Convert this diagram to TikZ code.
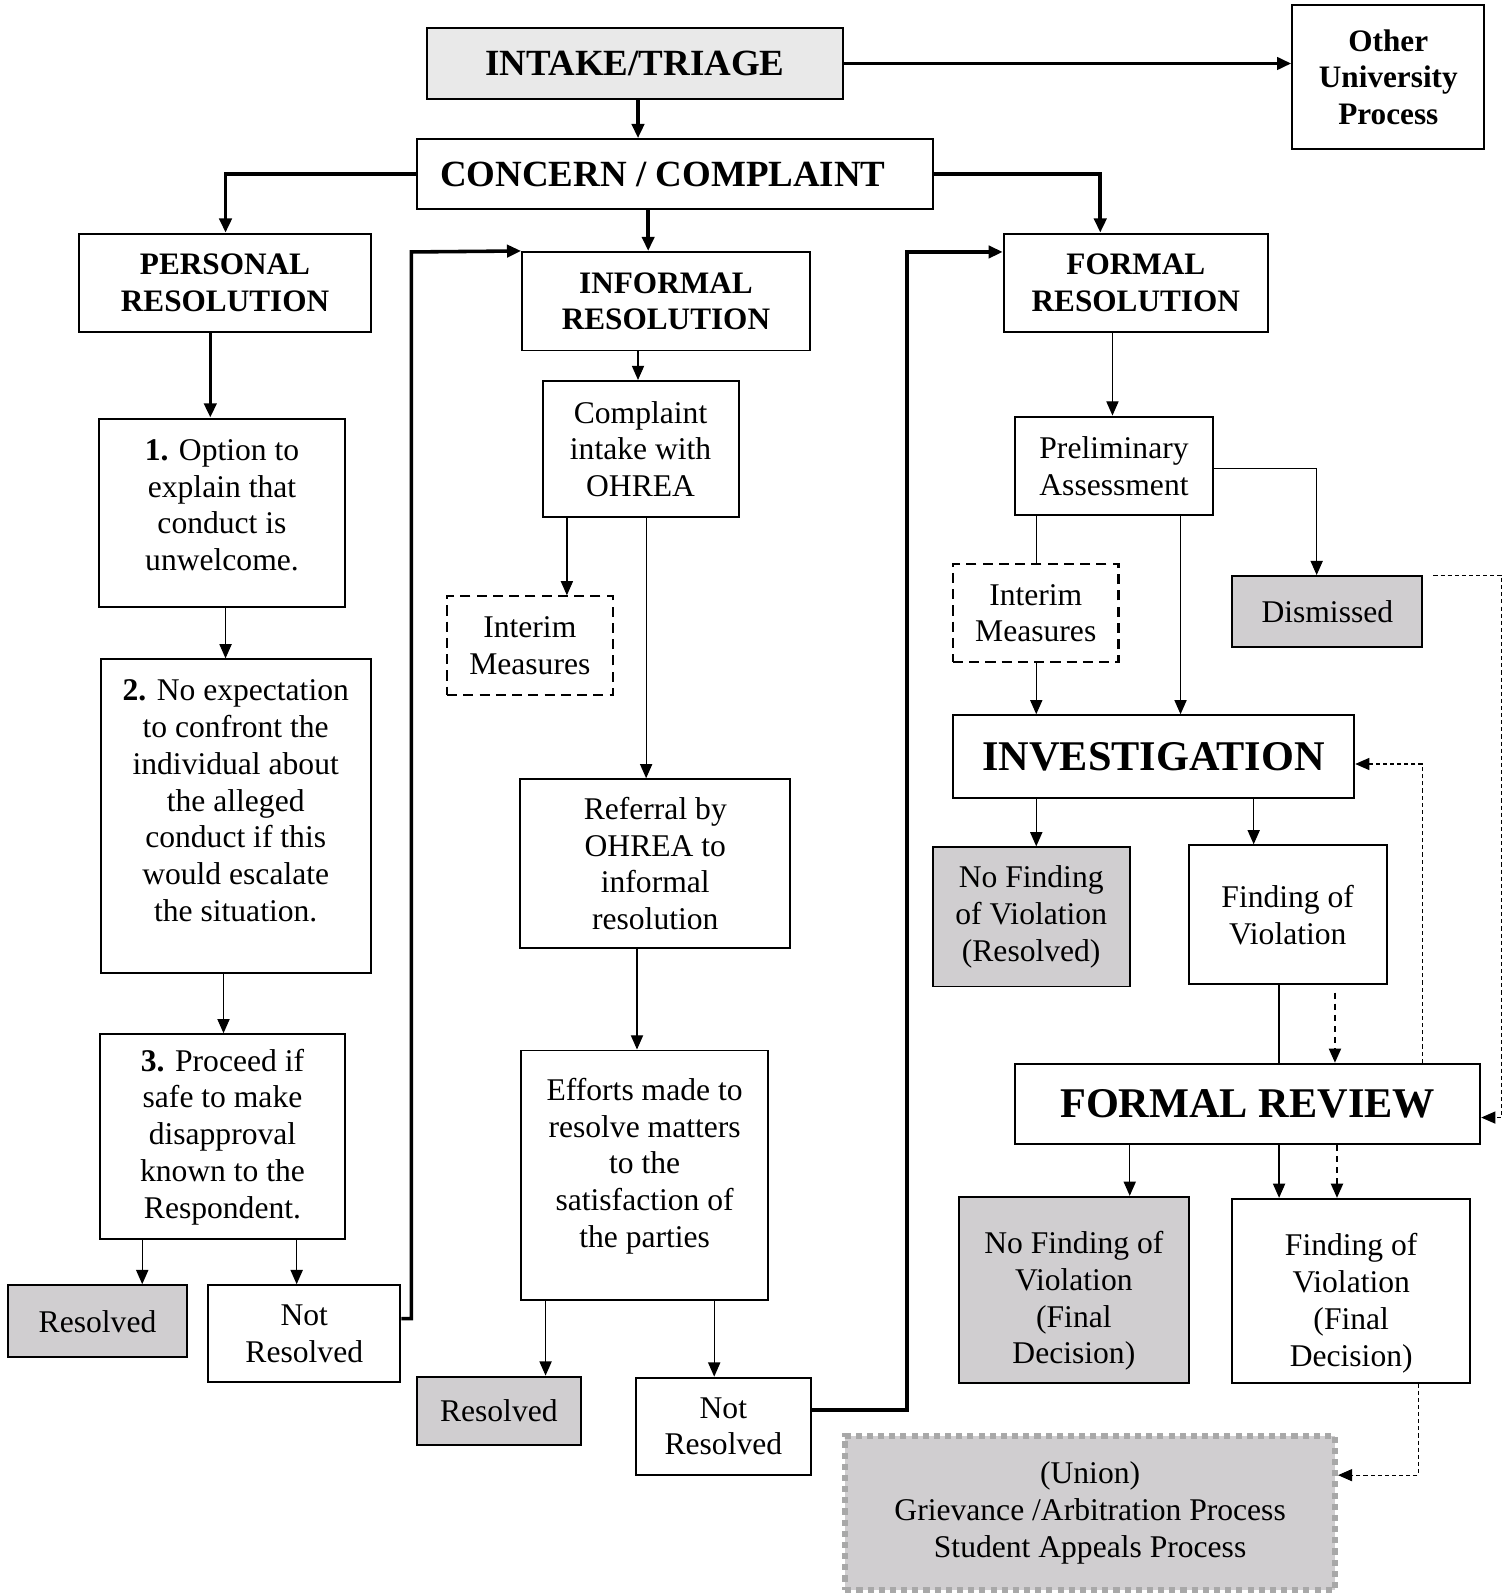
\documentclass[tikz,border=0pt]{standalone}
\usepackage{fontspec}
\setmainfont{Liberation Serif}
\usetikzlibrary{arrows.meta, positioning}
\definecolor{shade}{RGB}{208,206,208}
\definecolor{intakefill}{RGB}{233,233,233}
\definecolor{dotgray}{RGB}{168,168,168}
\tikzset{sz/.style 2 args={minimum width=#1*0.02cm, minimum height=#2*0.02cm}}

\begin{document}
\begin{tikzpicture}[x=0.02cm, y=-0.02cm,
  >={Triangle[length=0.28cm, width=0.24cm]},
  box/.style={draw=black, line width=1.1pt, fill=white, align=center, inner sep=0pt,
    font=\fontsize{17.7pt}{20.6pt}\selectfont},
  head/.style={box, font=\fontsize{17.5pt}{20.4pt}\selectfont\bfseries},
  mainhead/.style={box, font=\fontsize{20.7pt}{24pt}\selectfont\bfseries},
  big/.style={box, font=\fontsize{23.7pt}{26pt}\selectfont\bfseries},
  shaded/.style={box, fill=shade},
  interim/.style={box, dash pattern=on 0.2cm off 0.12cm, line width=1.2pt},
  union/.style={box, fill=shade, draw=dotgray, line width=0.12cm, dash pattern=on 0.12cm off 0.1cm},
  arr/.style={->, line width=0.7pt},
  thk/.style={->, line width=2pt},
  link/.style={line width=0.7pt},
  dsh/.style={->, line width=0.9pt, dash pattern=on 0.12cm off 0.1cm},
  fine/.style={->, line width=0.6pt, dash pattern=on 0.08cm off 0.06cm}
]
  \useasboundingbox (0,0) rectangle (1488,1568);

  % Top row
  \node[mainhead, fill=intakefill, sz={410}{69}] (intake) at (625,62.5) {INTAKE/TRIAGE};
  \node[head, sz={189}{142}] (other) at (1366.5,76) {Other\\University\\Process};
  \node[mainhead, sz={508}{69}] (concern) at (664,171.5) {CONCERN / COMPLAINT\hspace*{0.46cm}};

  % Three tracks
  \node[head, sz={287}{97}] (personal) at (221.5,278.5) {PERSONAL\\RESOLUTION};
  \node[head, sz={283}{97}] (informal) at (655.5,296.5) {INFORMAL\\RESOLUTION};
  \node[head, sz={260}{97}] (formal) at (1118,278.5) {FORMAL\\RESOLUTION};

  % Personal resolution
  \node[box, sz={243}{185}, text depth=0.3cm] (opt1) at (218.5,504.5)
    {\textbf{1.} Option to\\explain that\\conduct is\\unwelcome.};
  \node[box, sz={266}{309}, text depth=0.62cm] (opt2) at (232,803.5)
    {\textbf{2.} No expectation\\to confront the\\individual about\\the alleged\\conduct if this\\would escalate\\the situation.};
  \node[box, sz={242}{202}] (opt3) at (219,1119)
    {\textbf{3.} Proceed if\\safe to make\\disapproval\\known to the\\Respondent.};
  \node[shaded, sz={176}{71}] (res1) at (96,1300.5) {Resolved};
  \node[box, sz={189}{95}] (notres1) at (299.5,1312.5) {Not\\Resolved};

  % Informal resolution
  \node[box, sz={193}{134}] (intakeohrea) at (630.5,442) {Complaint\\intake with\\OHREA};
  \node[interim, sz={163}{97}] (interim1) at (521.5,635.5) {Interim\\Measures};
  \node[box, sz={266}{166}] (referral) at (645,850) {Referral by\\OHREA to\\informal\\resolution};
  \node[box, sz={243}{246}, text depth=0.5cm] (efforts) at (634.5,1157)
    {Efforts made to\\resolve matters\\to the\\satisfaction of\\the parties};
  \node[shaded, sz={162}{67}] (res2) at (491,1388.5) {Resolved};
  \node[box, sz={172}{96}] (notres2) at (712,1404) {Not\\Resolved};

  % Formal resolution
  \node[box, sz={195}{97}] (prelim) at (1096.5,458.5) {Preliminary\\Assessment};
  \node[interim, sz={163}{97}] (interim2) at (1019.5,603.5) {Interim\\Measures};
  \node[shaded, sz={187}{70}] (dismissed) at (1306.5,602) {Dismissed};
  \node[big, sz={395}{81}] (invest) at (1135.5,744.5) {INVESTIGATION};
  \node[shaded, sz={194}{137}] (nofind) at (1015,902.5) {No Finding\\of Violation\\(Resolved)};
  \node[box, sz={195}{137}] (find) at (1267.5,900.5) {Finding of\\Violation};
  \node[big, sz={458}{79}] (review) at (1228,1086.5) {FORMAL REVIEW};
  \node[shaded, sz={226}{183}, text height=3.05cm] (nofindfinal) at (1057,1269.5)
    {No Finding of\\Violation\\(Final\\Decision)};
  \node[box, sz={234}{181}, text height=3.1cm] (findfinal) at (1330,1270.5)
    {Finding of\\Violation\\(Final\\Decision)};
  \node[union, sz={482}{152}] (union) at (1073,1489)
    {(Union)\\Grievance /Arbitration Process\\Student Appeals Process};

  % Top connectors
  \draw[thk] (intake.east) -- (other.west |- intake.east);
  \draw[thk] (intake.south -| 628,0) -- (concern.north -| 628,0);
  \draw[thk] (concern.west) -| (personal.north -| 222,0);
  \draw[thk] (concern.south -| 638,0) -- (informal.north -| 638,0);
  \draw[thk] (concern.east) -| (formal.north -| 1083,0);

  % Personal track
  \draw[thk] (personal.south -| 207,0) -- (opt1.north -| 207,0);
  \draw[arr] (opt1.south -| 222,0) -- (opt2.north -| 222,0);
  \draw[arr] (opt2.south -| 220,0) -- (opt3.north -| 220,0);
  \draw[arr] (opt3.south -| 140,0) -- (res1.north -| 140,0);
  \draw[arr] (opt3.south -| 292,0) -- (notres1.north -| 292,0);
  \draw[thk] (notres1.east |- 0,1298) -| (405,248) -- (informal.north west);

  % Informal track
  \draw[arr] (informal.south -| 628,0) -- (intakeohrea.north -| 628,0);
  \draw[arr] (intakeohrea.south -| 558,0) -- (interim1.north -| 558,0);
  \draw[arr] (intakeohrea.south -| 636,0) -- (referral.north -| 636,0);
  \draw[arr] (referral.south -| 627,0) -- (efforts.north -| 627,0);
  \draw[arr] (efforts.south -| 537,0) -- (res2.north -| 537,0);
  \draw[arr] (efforts.south -| 703,0) -- (notres2.north -| 703,0);
  \draw[thk] (notres2.east |- 0,1388) -| (893,248) -- (formal.west |- 0,248);

  % Formal track
  \draw[arr] (formal.south -| 1095,0) -- (prelim.north -| 1095,0);
  \draw[link] (prelim.south -| 1020,0) -- (interim2.north -| 1020,0);
  \draw[arr] (interim2.south -| 1020,0) -- (invest.north -| 1020,0);
  \draw[arr] (prelim.south -| 1162,0) -- (invest.north -| 1162,0);
  \draw[arr] (prelim.east |- 0,461) -| (dismissed.north -| 1296,0);
  \draw[fine] (dismissed.north east) ++(10,0) -| (1478,1100) -- (review.east |- 0,1100);
  \draw[arr] (invest.south -| 1020,0) -- (nofind.north -| 1020,0);
  \draw[arr] (invest.south -| 1234,0) -- (find.north -| 1234,0);
  \draw[link] (find.south -| 1259,0) -- (review.north -| 1259,0);
  \draw[dsh] (find.south -| 1314,0) ++(0,7) -- (review.north -| 1314,0);
  \draw[fine] (review.north -| 1400,0) |- (invest.east |- 0,752);
  \draw[arr] (review.south -| 1112,0) -- (nofindfinal.north -| 1112,0);
  \draw[arr] (review.south -| 1259,0) -- (findfinal.north -| 1259,0);
  \draw[dsh] (review.south -| 1316,0) -- (findfinal.north -| 1316,0);
  \draw[fine] (findfinal.south -| 1396,0) |- (union.east |- 0,1452);
\end{tikzpicture}
\end{document}
